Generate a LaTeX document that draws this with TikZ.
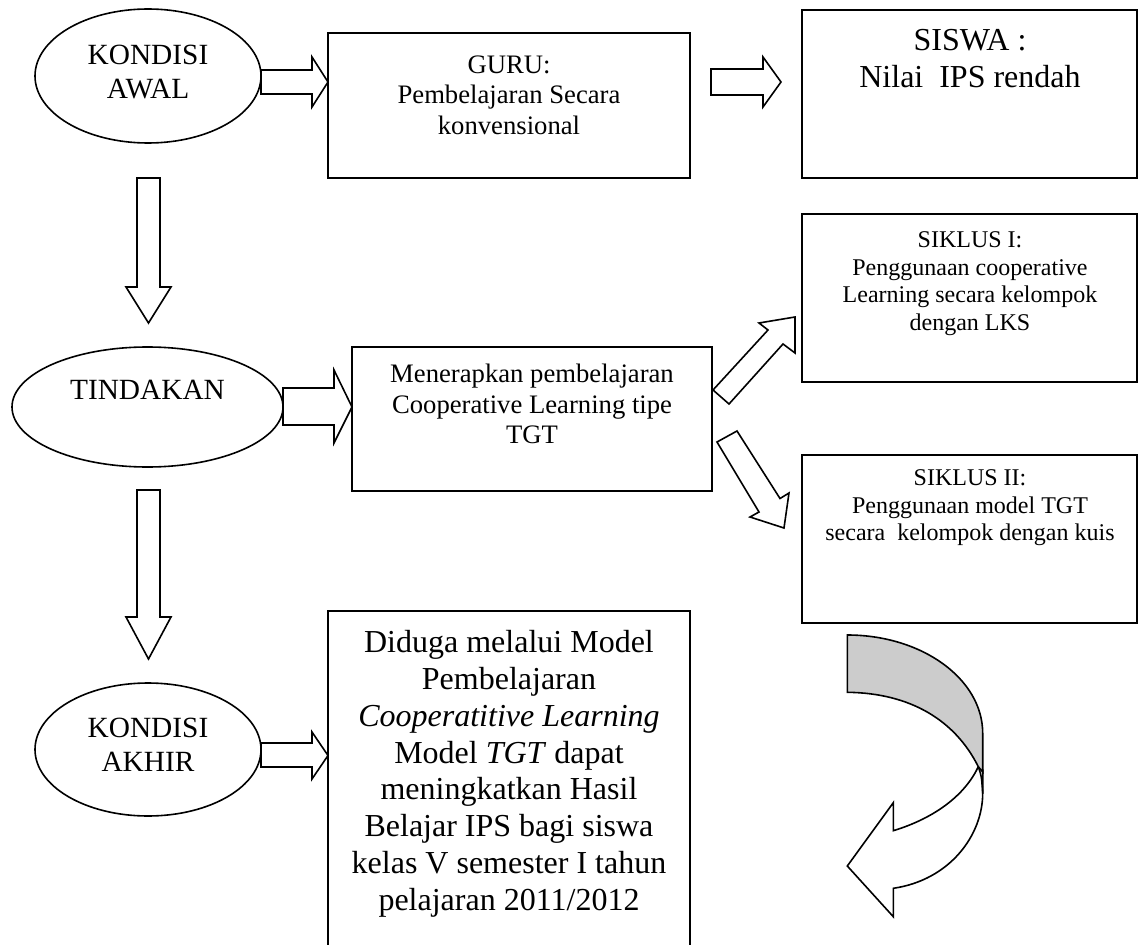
\documentclass[tikz,border=0pt]{standalone}
\usepackage{fontspec}
\setmainfont{Liberation Serif}
\usetikzlibrary{shapes.geometric}
\definecolor{shadegray}{RGB}{204,204,204}
\tikzset{
  box/.style={draw, line width=0.8pt, rectangle, inner sep=0pt},
  oval/.style={draw, line width=0.6pt, ellipse, inner sep=0pt},
  blk/.style={draw, line width=0.6pt, line join=miter},
  txt/.style={align=center, inner sep=0pt, anchor=north},
  fxii/.style={font=\fontsize{12}{13.8}\selectfont},
  fxi/.style={font=\fontsize{11}{12.65}\selectfont},
  fx/.style={font=\fontsize{10}{11.5}\selectfont},
  fix/.style={font=\fontsize{9}{10.35}\selectfont},
}
\begin{document}
\begin{tikzpicture}[x=0.375pt, y=-0.375pt]
\useasboundingbox (0,0) rectangle (1139,945);

% ellipses
\node[oval, minimum width=84.75pt, minimum height=50.25pt] (awal) at (148,76) {};
\node[oval, minimum width=101.625pt, minimum height=45pt] (tindakan) at (147.5,407) {};
\node[oval, minimum width=84.75pt, minimum height=49.875pt] (akhir) at (148,749.5) {};
\node[txt, fxi] (awalT) at (148,45) {KONDISI\\AWAL};
\node[txt, fxi] (tindakanT) at (147.5,380) {TINDAKAN};
\node[txt, fxi] (akhirT) at (148,718) {KONDISI\\AKHIR};

% boxes
\node[box, minimum width=135.75pt, minimum height=54.375pt] (guru) at (509,105.5) {};
\node[box, minimum width=125.625pt, minimum height=63pt] (siswa) at (969.5,94) {};
\node[box, minimum width=135pt, minimum height=54pt] (terap) at (532,419) {};
\node[box, minimum width=125.625pt, minimum height=63pt] (siklus1) at (969.5,298) {};
\node[box, minimum width=125.625pt, minimum height=63pt] (siklus2) at (969.5,539) {};
\node[box, minimum width=135.75pt, minimum height=126.375pt] (duga) at (509,779.5) {};

\node[txt, fx] (guruT) at (509,55) {GURU:\\Pembelajaran Secara\\konvensional};
\node[txt, fxii] (siswaT) at (970,29) {SISWA :\\Nilai\ \ IPS rendah};
\node[txt, fx] (terapT) at (532,363.5) {Menerapkan pembelajaran\\Cooperative Learning tipe\\TGT};
\node[txt, fix] (siklus1T) at (970,231) {SIKLUS I:\\Penggunaan cooperative\\Learning secara kelompok\\dengan LKS};
\node[txt, fix] (siklus2T) at (970,469) {SIKLUS II:\\Penggunaan model TGT\\secara\ \ kelompok dengan kuis};
\node[txt, fxii] (dugaT) at (509,630) {Diduga melalui Model\\Pembelajaran\\\textit{Cooperatitive Learning}\\Model \textit{TGT} dapat\\meningkatkan Hasil\\Belajar IPS bagi siswa\\kelas V semester I tahun\\pelajaran 2011/2012};

% block arrows
\draw[blk] (261,70) -- (312,70) -- (312,57) -- (328,82) -- (312,107) -- (312,94) -- (261,94) -- cycle;
\draw[blk] (711,69) -- (763,69) -- (763,57) -- (781,82) -- (763,107) -- (763,95) -- (711,95) -- cycle;
\draw[blk] (283,388) -- (334,388) -- (334,370) -- (352,407) -- (334,443) -- (334,425) -- (283,425) -- cycle;
\draw[blk] (261,743) -- (312,743) -- (312,732) -- (328,755.5) -- (312,779) -- (312,767) -- (261,767) -- cycle;
\draw[blk] (137,178) -- (160,178) -- (160,287) -- (171,287) -- (148.5,323) -- (126,287) -- (137,287) -- cycle;
\draw[blk] (137,490) -- (160,490) -- (160,617) -- (171,617) -- (148.5,659) -- (126,617) -- (137,617) -- cycle;
\draw[blk] (713,390) -- (768,330) -- (759,323) -- (795,317) -- (795,353) -- (783,344) -- (729,404) -- cycle;
\draw[blk] (717,442) -- (759,512) -- (750,517) -- (784,528) -- (789,493) -- (780,498.5) -- (737,431) -- cycle;

% curved arrow
\draw[blk, fill=white] (978.3,766.7) .. controls (965,795) and (935,818) .. (893.3,830.7) -- (893.3,802.7) -- (847.3,866) -- (893.3,916.7) -- (893.3,888.3) .. controls (950,880) and (982.7,835) .. (982.7,793.3) -- (982.7,770) -- cycle;
\draw[blk, fill=shadegray] (847.3,635) .. controls (922,635) and (982.7,679) .. (982.7,733.3) -- (982.7,772) -- (978.3,766.7) .. controls (955,720) and (910,693) .. (847.3,692.3) -- cycle;
\draw[blk] (978.3,766.7) .. controls (981.5,776) .. (982.7,793.3);
\end{tikzpicture}
\end{document}
